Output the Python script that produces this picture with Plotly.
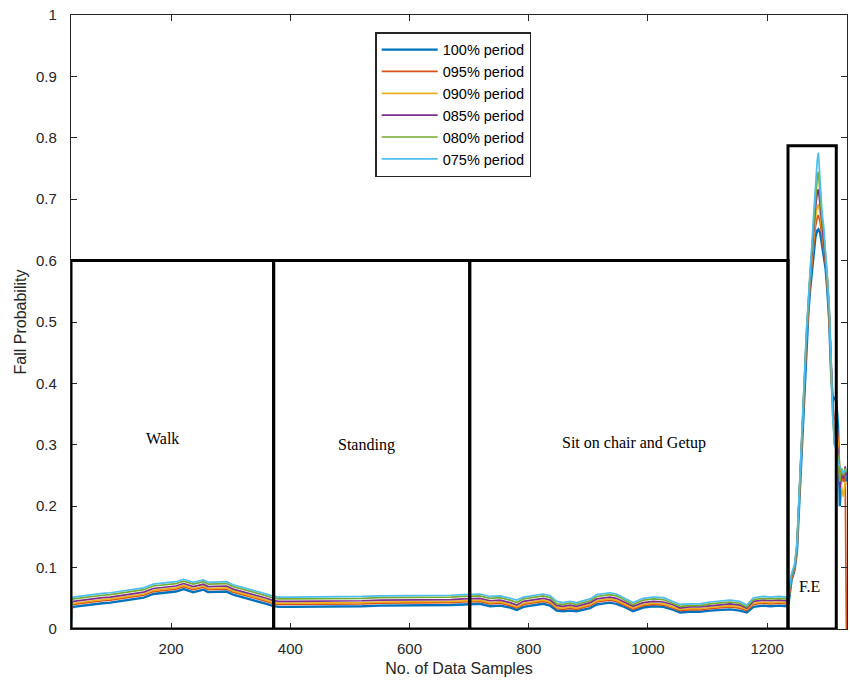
import plotly.graph_objects as go

# Sample index at which each reading was taken (shared by all series)
samples = [
    32, 33, 36, 50, 70, 85, 98, 112, 126, 140, 154, 170, 182, 193, 208, 221, 237, 246, 254, 262,
    271, 282, 293, 304, 316, 327, 338, 349, 360, 369,
    380, 400, 430, 460, 490, 520, 550, 580, 610, 640, 670, 690,
    701, 718, 735, 752, 769, 780, 791, 808, 824, 836, 847, 858, 869, 880, 892, 903, 914, 925,
    936, 947, 958, 975, 992, 1009, 1026, 1043, 1054, 1070, 1087, 1104, 1121, 1138, 1154, 1166,
    1177, 1194, 1205, 1220, 1232,
    1236, 1241, 1246, 1250, 1253, 1256, 1259, 1262, 1266, 1269, 1272, 1275, 1278, 1281, 1284,
    1286, 1289, 1292, 1295, 1298, 1301, 1304, 1307, 1310, 1313, 1316, 1319, 1322, 1325, 1328,
    1331, 1333,
]

period_100 = [
    0.000, 0.034, 0.036, 0.038, 0.041, 0.042, 0.043, 0.045, 0.046, 0.048, 0.051, 0.057, 0.058, 0.060, 0.061, 0.065, 0.060, 0.062, 0.064, 0.060,
    0.060, 0.061, 0.061, 0.056, 0.053, 0.050, 0.047, 0.045, 0.041, 0.038,
    0.036, 0.036, 0.036, 0.037, 0.037, 0.037, 0.038, 0.038, 0.038, 0.039, 0.039, 0.040,
    0.040, 0.041, 0.037, 0.038, 0.035, 0.031, 0.036, 0.039, 0.041, 0.038, 0.030, 0.029, 0.030, 0.029, 0.031, 0.034, 0.040, 0.041,
    0.043, 0.041, 0.037, 0.029, 0.035, 0.037, 0.036, 0.031, 0.027, 0.028, 0.028, 0.030, 0.031, 0.032, 0.030, 0.027,
    0.036, 0.038, 0.037, 0.038, 0.037,
    0.042, 0.080, 0.096, 0.126, 0.185, 0.255, 0.312, 0.380, 0.465, 0.512, 0.552, 0.585, 0.615, 0.638, 0.649,
    0.651, 0.645, 0.628, 0.612, 0.588, 0.552, 0.505, 0.425, 0.370, 0.378, 0.372, 0.330, 0.200, 0.260, 0.245,
    0.252, 0.240,
]

period_095 = [
    0.000, 0.038, 0.040, 0.042, 0.045, 0.046, 0.047, 0.049, 0.050, 0.052, 0.055, 0.061, 0.062, 0.064, 0.065, 0.069, 0.064, 0.066, 0.068, 0.064,
    0.064, 0.065, 0.065, 0.060, 0.057, 0.054, 0.051, 0.049, 0.045, 0.042,
    0.040, 0.040, 0.040, 0.041, 0.041, 0.041, 0.042, 0.042, 0.042, 0.043, 0.043, 0.044,
    0.044, 0.045, 0.041, 0.042, 0.038, 0.034, 0.040, 0.043, 0.045, 0.042, 0.033, 0.032, 0.034, 0.032, 0.035, 0.038, 0.044, 0.045,
    0.047, 0.045, 0.040, 0.032, 0.038, 0.040, 0.039, 0.034, 0.030, 0.031, 0.031, 0.033, 0.035, 0.036, 0.034, 0.030,
    0.040, 0.042, 0.041, 0.042, 0.041,
    0.047, 0.082, 0.098, 0.129, 0.188, 0.259, 0.315, 0.385, 0.470, 0.520, 0.562, 0.595, 0.628, 0.655, 0.670,
    0.674, 0.662, 0.640, 0.622, 0.595, 0.560, 0.510, 0.430, 0.365, 0.340, 0.345, 0.310, 0.260, 0.250, 0.240,
    0.250, 0.000,
]

period_090 = [
    0.000, 0.040, 0.042, 0.044, 0.047, 0.048, 0.049, 0.051, 0.052, 0.054, 0.057, 0.063, 0.064, 0.066, 0.067, 0.071, 0.066, 0.068, 0.070, 0.066,
    0.066, 0.067, 0.067, 0.062, 0.059, 0.056, 0.053, 0.051, 0.047, 0.044,
    0.042, 0.042, 0.042, 0.043, 0.043, 0.043, 0.044, 0.044, 0.044, 0.045, 0.045, 0.046,
    0.046, 0.047, 0.043, 0.044, 0.040, 0.036, 0.042, 0.045, 0.047, 0.044, 0.035, 0.034, 0.036, 0.034, 0.037, 0.040, 0.046, 0.047,
    0.049, 0.047, 0.042, 0.034, 0.040, 0.042, 0.041, 0.036, 0.032, 0.033, 0.033, 0.035, 0.037, 0.038, 0.036, 0.032,
    0.042, 0.044, 0.043, 0.044, 0.043,
    0.049, 0.084, 0.099, 0.131, 0.190, 0.262, 0.318, 0.388, 0.474, 0.525, 0.568, 0.602, 0.638, 0.668, 0.688,
    0.692, 0.675, 0.650, 0.630, 0.600, 0.565, 0.515, 0.435, 0.360, 0.320, 0.330, 0.300, 0.250, 0.230, 0.215,
    0.240, 0.235,
]

period_085 = [
    0.000, 0.043, 0.045, 0.047, 0.050, 0.051, 0.052, 0.054, 0.055, 0.057, 0.060, 0.066, 0.067, 0.069, 0.070, 0.074, 0.069, 0.071, 0.073, 0.069,
    0.069, 0.070, 0.070, 0.065, 0.062, 0.059, 0.056, 0.054, 0.050, 0.047,
    0.045, 0.045, 0.045, 0.046, 0.046, 0.046, 0.047, 0.047, 0.047, 0.048, 0.048, 0.049,
    0.049, 0.050, 0.046, 0.047, 0.043, 0.039, 0.045, 0.048, 0.050, 0.047, 0.038, 0.037, 0.039, 0.037, 0.040, 0.043, 0.049, 0.050,
    0.052, 0.050, 0.045, 0.037, 0.043, 0.045, 0.044, 0.039, 0.034, 0.036, 0.036, 0.038, 0.040, 0.041, 0.039, 0.034,
    0.045, 0.047, 0.046, 0.047, 0.046,
    0.052, 0.086, 0.101, 0.134, 0.193, 0.266, 0.322, 0.392, 0.478, 0.530, 0.574, 0.610, 0.650, 0.685, 0.710,
    0.716, 0.690, 0.660, 0.638, 0.605, 0.570, 0.520, 0.440, 0.355, 0.300, 0.310, 0.290, 0.230, 0.255, 0.245,
    0.265, 0.250,
]

period_080 = [
    0.000, 0.047, 0.049, 0.051, 0.054, 0.055, 0.056, 0.058, 0.059, 0.061, 0.064, 0.070, 0.071, 0.073, 0.074, 0.078, 0.073, 0.075, 0.077, 0.073,
    0.073, 0.074, 0.074, 0.069, 0.066, 0.063, 0.060, 0.058, 0.054, 0.051,
    0.049, 0.049, 0.049, 0.050, 0.050, 0.050, 0.051, 0.051, 0.051, 0.052, 0.052, 0.053,
    0.053, 0.054, 0.050, 0.051, 0.047, 0.043, 0.049, 0.052, 0.054, 0.051, 0.041, 0.040, 0.042, 0.040, 0.043, 0.046, 0.053, 0.054,
    0.056, 0.054, 0.049, 0.040, 0.047, 0.049, 0.048, 0.042, 0.037, 0.038, 0.038, 0.041, 0.043, 0.044, 0.042, 0.036,
    0.048, 0.050, 0.049, 0.050, 0.049,
    0.055, 0.088, 0.103, 0.137, 0.196, 0.270, 0.326, 0.396, 0.482, 0.535, 0.580, 0.618, 0.662, 0.700, 0.735,
    0.745, 0.705, 0.668, 0.645, 0.610, 0.575, 0.525, 0.445, 0.350, 0.305, 0.300, 0.280, 0.240, 0.262, 0.250,
    0.262, 0.255,
]

period_075 = [
    0.000, 0.050, 0.052, 0.054, 0.057, 0.058, 0.059, 0.061, 0.062, 0.064, 0.067, 0.073, 0.074, 0.076, 0.077, 0.081, 0.076, 0.078, 0.080, 0.076,
    0.076, 0.077, 0.077, 0.072, 0.069, 0.066, 0.063, 0.061, 0.057, 0.054,
    0.052, 0.052, 0.052, 0.053, 0.053, 0.053, 0.054, 0.054, 0.054, 0.055, 0.055, 0.056,
    0.056, 0.057, 0.053, 0.054, 0.050, 0.047, 0.052, 0.055, 0.057, 0.054, 0.045, 0.043, 0.045, 0.043, 0.046, 0.049, 0.056, 0.057,
    0.059, 0.057, 0.052, 0.043, 0.050, 0.052, 0.051, 0.045, 0.040, 0.041, 0.041, 0.044, 0.046, 0.047, 0.045, 0.039,
    0.051, 0.053, 0.052, 0.053, 0.052,
    0.058, 0.090, 0.105, 0.140, 0.200, 0.275, 0.330, 0.400, 0.487, 0.540, 0.585, 0.625, 0.675, 0.720, 0.762,
    0.776, 0.725, 0.680, 0.655, 0.615, 0.580, 0.530, 0.450, 0.345, 0.300, 0.292, 0.270, 0.264, 0.258, 0.254,
    0.258, 0.260,
]

series_names = ["100% period", "095% period", "090% period", "085% period", "080% period", "075% period"]
series_values = [period_100, period_095, period_090, period_085, period_080, period_075]
series_colors = ["#0072BD", "#D95319", "#EDB120", "#7E2F8E", "#77AC30", "#4DBEEE"]
series_widths = [2.4, 1.7, 1.7, 1.7, 1.7, 1.7]

# Activity segments: (label, start sample, end sample, box top, label x, label y)
segments = [
    ("Walk", 32, 372, 0.6, 185, 0.311),
    ("Standing", 372, 701, 0.6, 527, 0.300),
    ("Sit on chair and Getup", 701, 1235, 0.6, 977, 0.303),
    ("F.E", 1235, 1316, 0.787, 1271, 0.069),
]

x_ticks = [200, 400, 600, 800, 1000, 1200]
y_ticks = [0, 0.1, 0.2, 0.3, 0.4, 0.5, 0.6, 0.7, 0.8, 0.9, 1]
y_tick_text = ["0", "0.1", "0.2", "0.3", "0.4", "0.5", "0.6", "0.7", "0.8", "0.9", "1"]

fig = go.Figure()
for i, (name, vals, color, w) in enumerate(zip(series_names, series_values, series_colors, series_widths)):
    fig.add_trace(go.Scatter(
        x=samples, y=vals, mode="lines", name=name,
        line=dict(color=color, width=w),
        legendgroup=f"g{i}",
    ))

for label, x0, x1, top, lx, ly in segments:
    fig.add_shape(type="rect", x0=x0, x1=x1, y0=0, y1=top, xref="x", yref="y",
                  line=dict(color="black", width=3), layer="above")
    fig.add_annotation(x=lx, y=ly, text=label, showarrow=False, xref="x", yref="y",
                       font=dict(family="Liberation Serif", size=16, color="black"))

axis_font = dict(family="Liberation Sans, Arial", size=15, color="#262626")
common_axis = dict(
    showline=True, linecolor="#262626", linewidth=1.2, mirror="ticks",
    ticks="inside", ticklen=6, tickwidth=1.2, tickcolor="#262626",
    showgrid=False, zeroline=False, tickfont=axis_font,
)

fig.update_layout(
    width=850, height=683,
    margin=dict(l=71, r=3, t=15, b=54),
    paper_bgcolor="white", plot_bgcolor="white",
    xaxis=dict(range=[32, 1334], tickvals=x_ticks, ticklabelstandoff=6,
               title=dict(text="No. of Data Samples", font=dict(family="Liberation Sans, Arial", size=16, color="#262626"), standoff=6),
               **common_axis),
    yaxis=dict(range=[0, 1], tickvals=y_ticks, ticktext=y_tick_text, ticklabelstandoff=10,
               title=dict(text="Fall Probability", font=dict(family="Liberation Sans, Arial", size=16, color="#262626"), standoff=5),
               **common_axis),
    legend=dict(
        x=0.392, y=0.972, xanchor="left", yanchor="top",
        bgcolor="white", bordercolor="#262626", borderwidth=1.5,
        font=dict(family="Liberation Sans, Arial", size=14.5, color="black"),
        traceorder="grouped", tracegroupgap=0, itemwidth=56,
    ),
    showlegend=True,
)

fig.write_html("out.html")
